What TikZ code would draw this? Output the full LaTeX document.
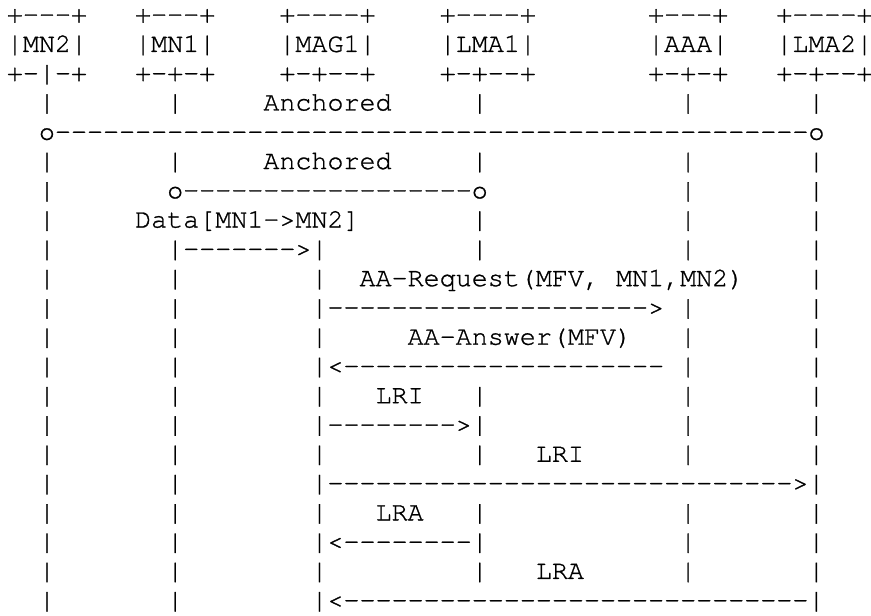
\documentclass[tikz,border=0pt]{standalone}
\usepackage{fontspec}
\setmonofont{TeX Gyre Cursor}[FakeBold=1]
\tikzset{
  txt/.style={anchor=base west, inner sep=0pt, outer sep=0pt,
    font=\ttfamily\fontsize{13.36pt}{14pt}\selectfont},
}
\begin{document}
\begin{tikzpicture}[x=8.015pt, y=-14.64pt]
\useasboundingbox (0pt,0pt) rectangle (435.5pt,-307.5pt);
\begin{scope}[shift={(3.44pt,-11.3pt)}]
% Entities
\node[txt] (mn2top)  at (0,0)  {+---+};
\node[txt] (mn1top)  at (8,0)  {+---+};
\node[txt] (mag1top) at (17,0) {+----+};
\node[txt] (lma1top) at (27,0) {+----+};
\node[txt] (aaatop)  at (40,0) {+---+};
\node[txt] (lma2top) at (48,0) {+----+};
\node[txt] (mn2)  at (0,1)  {|MN2|};
\node[txt] (mn1)  at (8,1)  {|MN1|};
\node[txt] (mag1) at (17,1) {|MAG1|};
\node[txt] (lma1) at (27,1) {|LMA1|};
\node[txt] (aaa)  at (40,1) {|AAA|};
\node[txt] (lma2) at (48,1) {|LMA2|};
\node[txt] (mn2bot)  at (0,2)  {+-|-+};
\node[txt] (mn1bot)  at (8,2)  {+-+-+};
\node[txt] (mag1bot) at (17,2) {+-+--+};
\node[txt] (lma1bot) at (27,2) {+-+--+};
\node[txt] (aaabot)  at (40,2) {+-+-+};
\node[txt] (lma2bot) at (48,2) {+-+--+};

% Lifelines
\foreach \r in {3,5,6,...,20} \node[txt] (mn2-\r) at (2,\r) {|};
\foreach \r in {3,5,8,9,...,20} \node[txt] (mn1-\r) at (10,\r) {|};
\foreach \r in {8,...,20} \node[txt] (mag1-\r) at (19,\r) {|};
\foreach \r in {3,5,7,8,13,14,15,17,18,19} \node[txt] (lma1-\r) at (29,\r) {|};
\foreach \r in {3,5,6,7,8,10,11,12,13,14,15,17,18,19} \node[txt] (aaa-\r) at (42,\r) {|};
\foreach \r in {3,5,6,...,20} \node[txt] (lma2-\r) at (50,\r) {|};

% Anchors
\node[txt] (anch2) at (16,3) {Anchored};
\node[txt] (tun2)  at (2,4)  {o-----------------------------------------------o};
\node[txt] (anch1) at (16,5) {Anchored};
\node[txt] (tun1)  at (10,6) {o------------------o};

% Messages
\node[txt] (data)   at (8,7)   {Data[MN1->MN2]};
\node[txt] (datam)  at (11,8)  {------->};
\node[txt] (aareq)  at (22,9)  {AA-Request(MFV, MN1,MN2)};
\node[txt] (aareqm) at (20,10) {-------------------->};
\node[txt] (aaans)  at (25,11) {AA-Answer(MFV)};
\node[txt] (aaansm) at (20,12) {<--------------------};
\node[txt] (lri1)   at (23,13) {LRI};
\node[txt] (lri1m)  at (20,14) {-------->};
\node[txt] (lri2)   at (33,15) {LRI};
\node[txt] (lri2m)  at (20,16) {----------------------------->};
\node[txt] (lra1)   at (23,17) {LRA};
\node[txt] (lra1m)  at (20,18) {<--------};
\node[txt] (lra2)   at (33,19) {LRA};
\node[txt] (lra2m)  at (20,20) {<-----------------------------};
\end{scope}
\end{tikzpicture}
\end{document}
